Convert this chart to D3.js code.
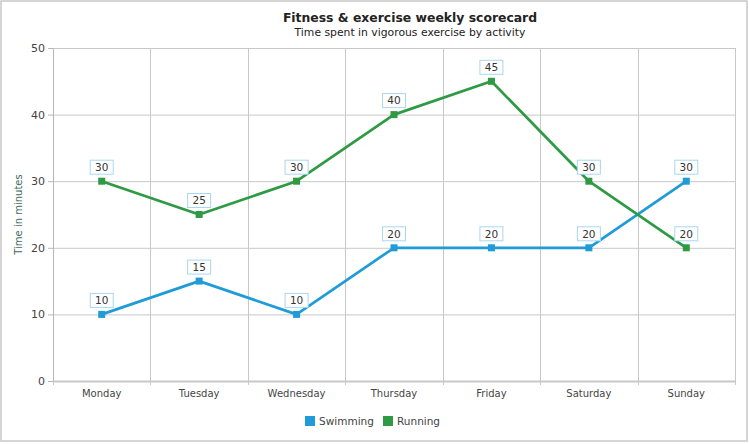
<!DOCTYPE html>
<html>
<head>
<meta charset="utf-8">
<script src="https://cdn.jsdelivr.net/npm/d3@7/dist/d3.min.js"></script>
<style>
  body { margin: 0; background: #fff; }
  svg { display: block; font-family: "DejaVu Sans", Verdana, sans-serif; }
</style>
</head>
<body>
<svg id="chart" width="749" height="444"></svg>
<script>
const days = ["Monday", "Tuesday", "Wednesday", "Thursday", "Friday", "Saturday", "Sunday"];
const swimming = [10, 15, 10, 20, 20, 20, 30];
const running = [30, 25, 30, 40, 45, 30, 20];
const yTicks = [0, 10, 20, 30, 40, 50];
const seriesNames = ["Swimming", "Running"];
const seriesColors = ["#1f9bd7", "#2e9a43"];

const svg = d3.select("#chart");
const W = 749, H = 444;
const m = { left: 53, right: 14, top: 48, bottom: 63 };
const iw = W - m.left - m.right, ih = H - m.top - m.bottom;

svg.append("rect").attr("x", 1).attr("y", 1).attr("width", W - 3).attr("height", H - 4)
  .attr("fill", "#fff").attr("stroke", "#c8c8c8").attr("stroke-width", 1.5);

svg.append("text").attr("x", 410).attr("y", 22).attr("text-anchor", "middle")
  .attr("font-weight", "bold").attr("font-size", 12.4).attr("fill", "#222")
  .text("Fitness & exercise weekly scorecard");
svg.append("text").attr("x", 410).attr("y", 36).attr("text-anchor", "middle")
  .attr("font-size", 10.8).attr("fill", "#222")
  .text("Time spent in vigorous exercise by activity");

const g = svg.append("g").attr("transform", `translate(${m.left},${m.top})`);

const x = d3.scaleBand().domain(days).range([0, iw]);
const y = d3.scaleLinear().domain([0, 50]).range([ih, 0]);

g.selectAll(".hg").data(yTicks.filter(t => t > 0)).join("line")
  .attr("x1", 0).attr("x2", iw).attr("y1", d => y(d) + 0.5).attr("y2", d => y(d) + 0.5)
  .attr("stroke", "#c8c8c8");
const bounds = days.map(d => x(d)).concat([iw]);
g.selectAll(".vg").data(bounds).join("line")
  .attr("x1", d => Math.round(d) + 0.5).attr("x2", d => Math.round(d) + 0.5)
  .attr("y1", 0).attr("y2", ih + 4)
  .attr("stroke", "#c8c8c8");

const yAxis = g.append("g").call(d3.axisLeft(y).tickValues(yTicks).tickSize(5).tickPadding(3));
yAxis.select(".domain").attr("stroke", "#b8b8b8");
yAxis.selectAll(".tick line").attr("stroke", "#b8b8b8");
yAxis.selectAll("text").attr("font-size", 11).attr("fill", "#444").attr("font-family", "DejaVu Sans, Verdana, sans-serif");

const xAxis = g.append("g").attr("transform", `translate(0,${ih})`)
  .call(d3.axisBottom(x).tickSize(0).tickPadding(9));
xAxis.select(".domain").attr("stroke", "#c8c8c8").attr("stroke-width", 2);
xAxis.selectAll("text").attr("font-size", 10).attr("fill", "#444").attr("font-family", "DejaVu Sans, Verdana, sans-serif");

svg.append("text").attr("transform", `translate(22,${m.top + ih / 2}) rotate(-90)`)
  .attr("text-anchor", "middle").attr("font-size", 10).attr("fill", "#3d6b5c")
  .text("Time in minutes");

const line = d3.line().x((d, i) => x(days[i]) + x.bandwidth() / 2).y(d => y(d));
[swimming, running].forEach((data, si) => {
  const col = seriesColors[si];
  g.append("path").datum(data).attr("d", line).attr("fill", "none")
    .attr("stroke", col).attr("stroke-width", 2.7).attr("stroke-linejoin", "round");
  g.selectAll(".pt" + si).data(data).join("rect")
    .attr("x", (d, i) => x(days[i]) + x.bandwidth() / 2 - 3.5)
    .attr("y", d => y(d) - 3.5).attr("width", 7).attr("height", 7).attr("fill", col);
  const lab = g.selectAll(".lb" + si).data(data).join("g")
    .attr("transform", (d, i) => `translate(${x(days[i]) + x.bandwidth() / 2},${y(d) - 14})`);
  lab.append("rect").attr("x", -11.5).attr("y", -7).attr("width", 23).attr("height", 14)
    .attr("fill", "#fff").attr("stroke", "#a9d6f2").attr("stroke-width", 1);
  lab.append("text").attr("text-anchor", "middle").attr("dy", "0.36em")
    .attr("font-size", 10.5).attr("fill", "#333").text(d => d);
});

const leg = svg.append("g").attr("transform", "translate(305,416)");
const items = [{ n: seriesNames[0], c: seriesColors[0], x: 0 }, { n: seriesNames[1], c: seriesColors[1], x: 78 }];
items.forEach(it => {
  leg.append("rect").attr("x", it.x).attr("y", 0).attr("width", 10).attr("height", 10).attr("fill", it.c);
  leg.append("text").attr("x", it.x + 14).attr("y", 9).attr("font-size", 10.5).attr("fill", "#444").text(it.n);
});
</script>
</body>
</html>
